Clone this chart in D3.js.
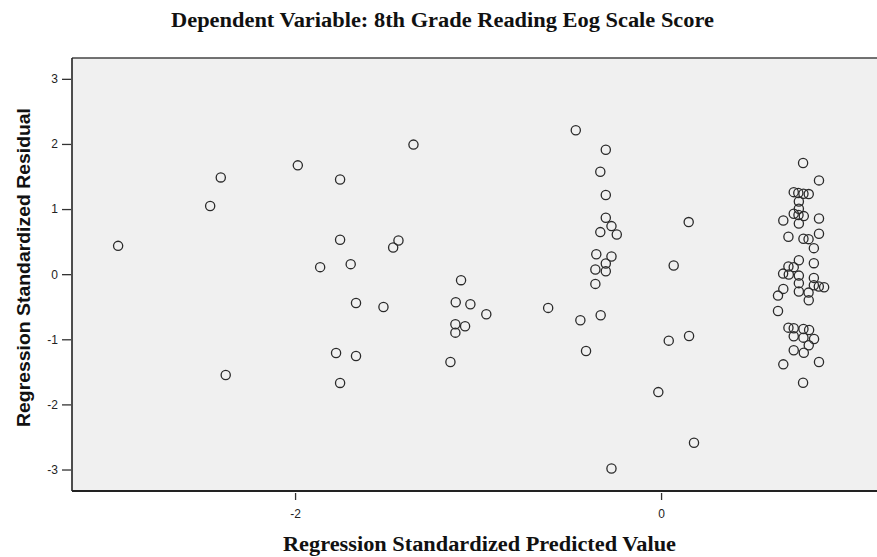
<!DOCTYPE html>
<html>
<head>
<meta charset="utf-8">
<script src="https://cdn.jsdelivr.net/npm/d3@7"></script>
<style>
  body { margin: 0; background: #fff; }
  .axis text { font-family: "Liberation Sans", Arial, sans-serif; font-size: 12px; fill: #222; }
  .axis path { display: none; }
  .axis line { stroke: #333; stroke-width: 1.3; }
</style>
</head>
<body>
<div id="chart"></div>
<script>
// Regression standardized predicted value (x) and residual (y)
var predicted = [
    -2.967, -2.464, -2.406, -2.379, -1.985, -1.863, -1.353, -1.754, -1.754, -1.435,
    -1.464, -1.696, -1.093, -1.122, -1.042, -0.955, -1.667, -1.517, -1.124, -1.071,
    -1.124, -1.776, -1.667, -1.151, -1.754,
    -0.466, -0.302, -0.332, -0.302, -0.302, -0.271, -0.332, -0.242, -0.354, -0.271,
    -0.302, -0.359, -0.302, -0.359, 0.151, 0.069, -0.617, -0.441, -0.330, -0.410,
    0.042, 0.153, -0.015, 0.180, -0.271,
    0.776, 0.863, 0.725, 0.750, 0.778, 0.807, 0.753, 0.753, 0.725, 0.751,
    0.780, 0.668, 0.753, 0.863, 0.696, 0.863, 0.778, 0.806, 0.835, 0.753,
    0.835, 0.696, 0.725, 0.667, 0.698, 0.753, 0.835, 0.753, 0.835, 0.862,
    0.891, 0.668, 0.753, 0.806, 0.639, 0.807, 0.639, 0.696, 0.725, 0.778,
    0.809, 0.725, 0.778, 0.836, 0.807, 0.725, 0.780, 0.668, 0.863, 0.776
];
var residual = [
    0.435, 1.046, 1.486, -1.549, 1.671, 0.108, 1.990, 1.455, 0.528, 0.517,
    0.410, 0.154, -0.092, -0.431, -0.462, -0.615, -0.442, -0.503, -0.770, -0.800,
    -0.898, -1.211, -1.257, -1.349, -1.670,
    2.210, 1.912, 1.574, 1.215, 0.866, 0.738, 0.646, 0.609, 0.307, 0.271,
    0.163, 0.071, 0.046, -0.149, 0.800, 0.133, -0.518, -0.708, -0.631, -1.180,
    -1.021, -0.949, -1.811, -2.590, -2.985,
    1.708, 1.440, 1.260, 1.246, 1.235, 1.230, 1.117, 1.005, 0.928, 0.908,
    0.892, 0.825, 0.778, 0.855, 0.574, 0.620, 0.543, 0.538, 0.400, 0.215,
    0.169, 0.117, 0.108, 0.009, -0.006, -0.022, -0.057, -0.138, -0.169, -0.190,
    -0.200, -0.226, -0.267, -0.283, -0.329, -0.400, -0.565, -0.821, -0.831, -0.842,
    -0.857, -0.954, -0.975, -0.995, -1.092, -1.169, -1.206, -1.385, -1.349, -1.667
];
var xTicks = [-2, 0];
var yTicks = [-3, -2, -1, 0, 1, 2, 3];

var titleText = "Dependent Variable: 8th Grade Reading Eog Scale Score";
var xLabel = "Regression Standardized Predicted Value";
var yLabel = "Regression Standardized Residual";

var points = predicted.map(function(d, i) { return { x: d, y: residual[i] }; });

var margin = { top: 58, right: 0, bottom: 66, left: 72 };
var width = 877 - margin.left - margin.right;
var height = 557 - margin.top - margin.bottom;

var svg = d3.select("#chart").append("svg")
    .attr("width", 877)
    .attr("height", 557);

var g = svg.append("g")
    .attr("transform", "translate(" + margin.left + "," + margin.top + ")");

var x = d3.scaleLinear()
    .domain([-3.219, 1.180])
    .range([0, width]);

var y = d3.scaleLinear()
    .domain([-3.33, 3.32])
    .range([height, 0]);

// plain hyphen for negatives, like the original
var intFormat = function(d) { return String(d); };

// plot background
g.append("rect")
    .attr("width", width)
    .attr("height", height)
    .attr("fill", "#f0f0f0");

// frame lines (right side is cut off by the picture)
g.append("line")
    .attr("x1", 0).attr("x2", width)
    .attr("y1", 0).attr("y2", 0)
    .attr("stroke", "#444").attr("stroke-width", 1.6);
g.append("line")
    .attr("x1", 0).attr("x2", 0)
    .attr("y1", 0).attr("y2", height)
    .attr("stroke", "#222").attr("stroke-width", 1.6);
g.append("line")
    .attr("x1", 0).attr("x2", width)
    .attr("y1", height).attr("y2", height)
    .attr("stroke", "#222").attr("stroke-width", 1.8);

// axes
var yAxis = d3.axisLeft(y).tickValues(yTicks).tickSize(9).tickPadding(4).tickFormat(intFormat);
var xAxis = d3.axisBottom(x).tickValues(xTicks).tickSize(7).tickPadding(9).tickFormat(intFormat);

g.append("g")
    .attr("class", "axis y-axis")
    .attr("transform", "translate(-1,0)")
    .call(yAxis);

g.append("g")
    .attr("class", "axis x-axis")
    .attr("transform", "translate(0," + (height + 2) + ")")
    .call(xAxis);

// points
g.selectAll(".dot")
    .data(points)
    .enter()
    .append("circle")
    .attr("class", "dot")
    .attr("cx", function(d) { return x(d.x); })
    .attr("cy", function(d) { return y(d.y); })
    .attr("r", 4.6)
    .attr("fill", "none")
    .attr("stroke", "#2a2a2a")
    .attr("stroke-width", 1.3);

// title and labels
svg.append("text")
    .attr("x", 171)
    .attr("y", 27)
    .attr("textLength", 543)
    .attr("lengthAdjust", "spacingAndGlyphs")
    .attr("font-family", "'Liberation Serif', 'Times New Roman', serif")
    .attr("font-weight", "bold")
    .attr("font-size", "20px")
    .attr("fill", "#111")
    .text(titleText);

svg.append("text")
    .attr("x", 283)
    .attr("y", 551)
    .attr("textLength", 393)
    .attr("lengthAdjust", "spacingAndGlyphs")
    .attr("font-family", "'Liberation Serif', 'Times New Roman', serif")
    .attr("font-weight", "bold")
    .attr("font-size", "20px")
    .attr("fill", "#111")
    .text(xLabel);

svg.append("text")
    .attr("transform", "translate(30,427) rotate(-90)")
    .attr("textLength", 319)
    .attr("lengthAdjust", "spacingAndGlyphs")
    .attr("font-family", "'Liberation Sans', Arial, sans-serif")
    .attr("font-weight", "bold")
    .attr("font-size", "18px")
    .attr("fill", "#111")
    .text(yLabel);
</script>
</body>
</html>
